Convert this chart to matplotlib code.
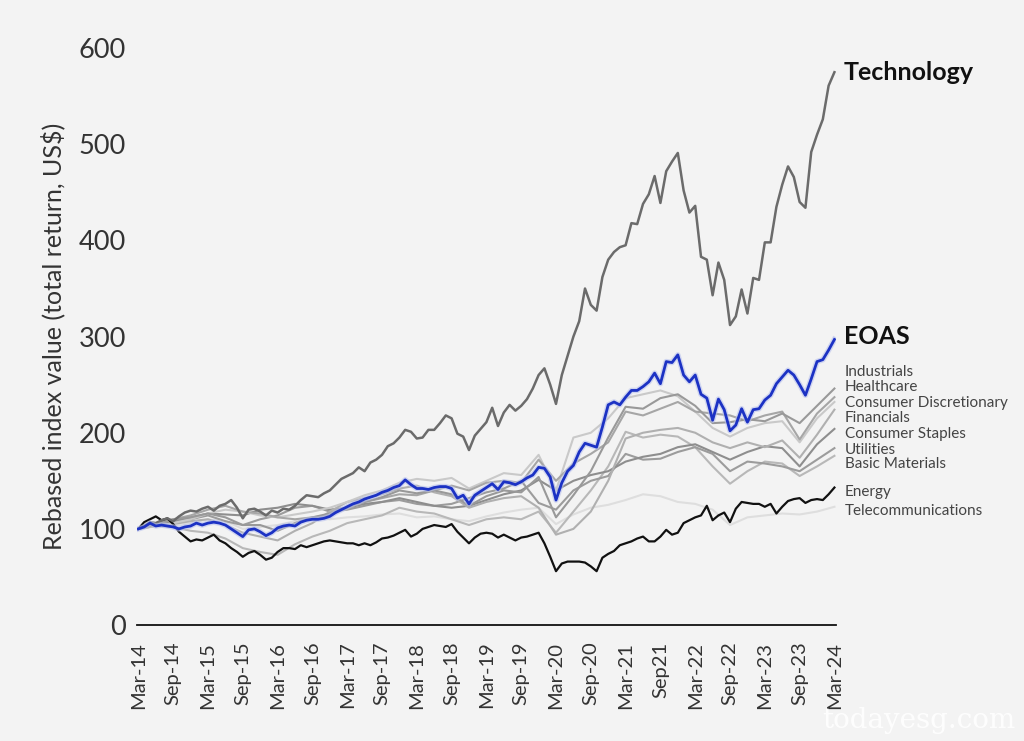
import matplotlib.pyplot as plt
import numpy as np

# months since Mar-14 (monthly series) and quarterly series
months = np.arange(121)
quarters = np.arange(0, 121, 3)

technology = [100, 103, 107, 106, 109, 111, 108, 113, 117, 119, 118, 121, 123, 119, 124, 126, 130, 122, 111, 120,
              121, 118, 114, 119, 117, 121, 120, 124, 130, 135, 134, 133, 137, 140, 146, 152, 155, 158, 164, 160,
              169, 172, 177, 186, 189, 195, 203, 201, 194, 195, 203, 203, 210, 218, 215, 199, 196, 182, 197, 204,
              211, 226, 207, 221, 229, 223, 228, 235, 246, 260, 267, 250, 230, 260, 280, 300, 316, 350, 333, 327,
              362, 380, 388, 393, 395, 418, 417, 438, 448, 467, 439, 472, 482, 491, 452, 429, 436, 383, 380, 343,
              377, 359, 312, 321, 349, 324, 361, 359, 398, 398, 435, 458, 477, 466, 440, 434, 492, 510, 526, 561,
              575]

eoas = [100, 102, 106, 103, 104, 103, 102, 100, 102, 103, 106, 104, 106, 107, 106, 104, 100, 96, 92, 99,
        100, 97, 93, 96, 101, 103, 104, 103, 107, 109, 110, 110, 111, 113, 117, 120, 123, 126, 128, 131,
        133, 135, 138, 140, 143, 145, 151, 146, 142, 142, 141, 143, 144, 144, 142, 132, 135, 126, 135, 139,
        143, 147, 141, 149, 148, 146, 149, 153, 156, 164, 163, 154, 130, 148, 160, 166, 180, 189, 187, 185,
        206, 229, 232, 229, 237, 244, 244, 248, 253, 262, 251, 274, 273, 281, 260, 253, 260, 240, 236, 213,
        235, 224, 202, 208, 225, 211, 224, 225, 234, 239, 251, 258, 265, 260, 250, 239, 256, 274, 276, 286,
        297]

energy = [100, 107, 110, 113, 109, 111, 105, 97, 92, 87, 89, 88, 91, 94, 88, 85, 80, 76, 71, 75,
          77, 73, 68, 70, 76, 80, 80, 79, 83, 81, 83, 85, 87, 88, 87, 86, 85, 85, 83, 85,
          83, 86, 90, 91, 93, 96, 99, 92, 95, 100, 102, 104, 103, 102, 105, 97, 91, 85, 91, 95,
          96, 95, 91, 94, 91, 88, 91, 92, 94, 96, 85, 71, 56, 64, 66, 66, 66, 65, 61, 56,
          70, 74, 77, 83, 85, 87, 90, 92, 87, 87, 92, 99, 94, 96, 106, 109, 112, 114, 124, 109,
          114, 117, 107, 121, 128, 127, 126, 126, 123, 126, 116, 123, 129, 131, 132, 127, 130, 131, 130, 136,
          143]

industrials = [100, 106, 110, 112, 116, 112, 104, 104, 98, 106, 112, 116, 122, 128, 133, 140, 137, 140, 136, 124,
               134, 140, 138, 154, 112, 135, 160, 195, 227, 225, 236, 240, 228, 210, 211, 214, 212, 220, 210, 228, 246]
healthcare = [100, 104, 110, 114, 120, 124, 118, 116, 112, 110, 112, 114, 122, 128, 132, 136, 135, 140, 145, 140,
              148, 150, 148, 172, 150, 168, 178, 190, 222, 218, 225, 232, 222, 220, 218, 212, 218, 222, 193, 220, 237]
cons_disc = [100, 103, 106, 110, 116, 120, 118, 114, 112, 115, 118, 122, 128, 135, 140, 148, 152, 150, 153, 142,
             150, 158, 156, 177, 140, 195, 200, 215, 236, 240, 244, 238, 222, 205, 196, 205, 210, 212, 190, 215, 232]
financials = [100, 103, 105, 108, 110, 104, 96, 92, 88, 98, 106, 118, 128, 132, 136, 142, 145, 138, 134, 122,
              128, 132, 134, 122, 94, 100, 118, 150, 194, 200, 203, 205, 200, 190, 184, 190, 185, 192, 174, 198, 224]
cons_staples = [100, 104, 108, 112, 116, 115, 114, 120, 122, 126, 124, 120, 122, 126, 128, 132, 128, 124, 122, 124,
                130, 136, 140, 151, 140, 150, 156, 160, 170, 175, 178, 185, 188, 180, 172, 180, 186, 184, 165, 188, 204]
utilities = [100, 104, 107, 110, 114, 108, 104, 110, 114, 122, 124, 118, 120, 124, 128, 130, 126, 124, 126, 132,
             138, 142, 150, 127, 120, 140, 150, 155, 178, 172, 173, 180, 185, 178, 160, 170, 168, 165, 160, 172, 184]
basic_materials = [100, 103, 102, 98, 96, 90, 80, 76, 73, 84, 92, 98, 106, 110, 114, 122, 118, 116, 110, 104,
                   110, 112, 110, 118, 96, 118, 140, 165, 201, 195, 198, 196, 185, 165, 147, 160, 170, 168, 155, 165, 176]
telecom = [100, 104, 103, 106, 110, 108, 100, 102, 104, 108, 112, 110, 112, 113, 115, 116, 112, 113, 110, 108,
           113, 117, 120, 122, 105, 115, 122, 125, 130, 136, 134, 128, 126, 120, 104, 112, 114, 116, 115, 118, 123]

tick_labels = ['Mar-14', 'Sep-14', 'Mar-15', 'Sep-15', 'Mar-16', 'Sep-16', 'Mar-17', 'Sep-17', 'Mar-18',
               'Sep-18', 'Mar-19', 'Sep-19', 'Mar-20', 'Sep-20', 'Mar-21', 'Sep21', 'Mar-22', 'Sep-22',
               'Mar-23', 'Sep-23', 'Mar-24']

plt.rcParams['font.family'] = ['Lato', 'DejaVu Sans']
bg = '#f3f3f3'
txt = '#333333'
fig = plt.figure(figsize=(10.24, 7.41), dpi=100, facecolor=bg)
ax = fig.add_axes([0.134, 0.1565, 0.682, 0.7785])
ax.set_facecolor(bg)

grays = [
    (basic_materials, '#b8b8b8'),
    (utilities, '#9c9c9c'),
    (cons_staples, '#8e8e8e'),
    (financials, '#b0b0b0'),
    (cons_disc, '#c9c9c9'),
    (healthcare, '#a6a6a6'),
    (industrials, '#999999'),
]
ax.plot(quarters, telecom, color='#dedede', lw=1.5, zorder=1)
for series, col in grays:
    ax.plot(quarters, series, color=col, lw=1.5, zorder=2)
ax.plot(months, energy, color='#111111', lw=1.6, zorder=3)
ax.plot(months, technology, color='#6b6b6b', lw=1.8, zorder=3)
ax.plot(months, eoas, color='#b9c2ee', lw=4, zorder=4, alpha=0.6)
ax.plot(months, eoas, color='#1c32c4', lw=2, zorder=5)

ax.set_xlim(-0.2, 120.2)
ax.set_ylim(0, 600)
ax.set_yticks(range(0, 601, 100))
ax.set_xticks(range(0, 121, 6))
ax.set_xticklabels(tick_labels, rotation=90)
ax.tick_params(axis='both', length=0, colors=txt)
ax.tick_params(axis='y', labelsize=19.5, pad=8)
ax.tick_params(axis='x', labelsize=14.5, pad=12)
for s in ['top', 'right', 'left']:
    ax.spines[s].set_visible(False)
ax.spines['bottom'].set_color('#111111')
ax.spines['bottom'].set_linewidth(1.3)
ax.set_ylabel('Rebased index value (total return, US$)', fontsize=18, color=txt, labelpad=10)

# end labels
big = [('Technology', 575), ('EOAS', 300)]
for name, yv in big:
    ax.text(121.6, yv, name, fontsize=18, fontweight='bold', color='#111111', va='center', clip_on=False)
small = ['Industrials', 'Healthcare', 'Consumer Discretionary', 'Financials', 'Consumer Staples',
         'Utilities', 'Basic Materials', 'Energy', 'Telecommunications']
small_y = [263, 248, 231, 215, 199, 182, 167, 138, 119]
for name, yv in zip(small, small_y):
    ax.text(121.8, yv, name, fontsize=11, color='#444444', va='center', clip_on=False)

fig.text(0.992, 0.01, 'todayesg.com', fontsize=20, family='DejaVu Serif', color='white',
         ha='right', va='bottom', alpha=0.9)

fig.savefig('out.png', dpi=100, facecolor=bg)
